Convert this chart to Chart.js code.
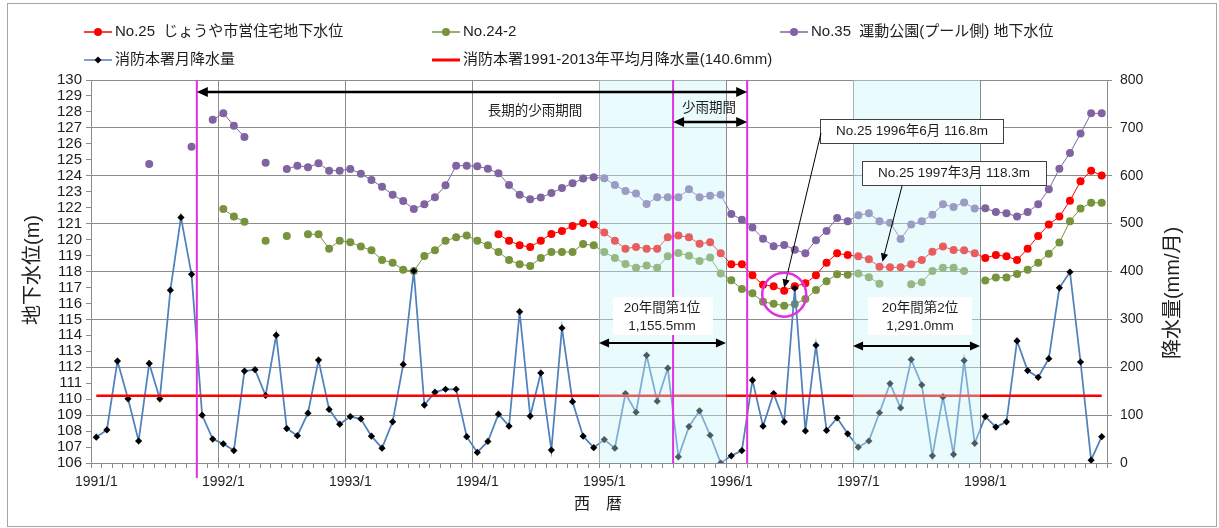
<!DOCTYPE html>
<html>
<head>
<meta charset="utf-8">
<script src="https://cdn.jsdelivr.net/npm/chart.js@4.4.1/dist/chart.umd.min.js"></script>
<style>
  html, body { margin: 0; padding: 0; background: #fff; }
  #wrap { width: 1219px; height: 528px; }
</style>
</head>
<body>
<div id="wrap"><canvas id="chart" width="1219" height="528"></canvas></div>
<script>
// months 1991/1 .. 1998/12
const months = [];
for (let y = 1991; y <= 1998; y++) for (let m = 1; m <= 12; m++) months.push(y + '/' + m);

// 消防本署月降水量 (mm)
const rain = [
  54, 69, 213, 134, 46, 208, 134, 361, 513, 394, 100, 50,
  40, 26, 192, 195, 141, 267, 72, 57, 104, 215, 112, 81,
  97, 92, 56, 31, 86, 206, 401, 121, 148, 154, 154, 55,
  22, 45, 102, 77, 316, 98, 188, 27, 282, 128, 56, 32,
  49, 31, 145, 106, 225, 129, 198, 13, 76, 109, 58, 0,
  15, 26, 173, 77, 145, 86, 365, 67, 246, 68, 94, 61,
  33, 46, 105, 166, 115, 216, 163, 15, 138, 18, 214, 41,
  97, 75, 86, 255, 193, 179, 218, 366, 399, 211, 6, 55
];
const avgRain = 140.6;

// No.25 じょうや市営住宅地下水位 (m)
const no25 = [
  null, null, null, null, null, null, null, null, null, null, null, null,
  null, null, null, null, null, null, null, null, null, null, null, null,
  null, null, null, null, null, null, null, null, null, null, null, null,
  null, null, 120.33, 119.93, 119.64, 119.54, 119.93, 120.35, 120.54, 120.85, 121.04, 120.94,
  120.44, 119.93, 119.43, 119.54, 119.43, 119.43, 120.14, 120.25, 120.14, 119.74, 119.83, 119.14,
  118.45, 118.45, 117.76, 117.17, 117.07, 116.8, 117.07, 117.26, 117.76, 118.55, 119.14, 119.03,
  118.95, 118.76, 118.3, 118.26, 118.26, 118.45, 118.72, 119.24, 119.56, 119.35, 119.33, 119.14,
  118.85, 119.03, 118.95, 118.72, 119.43, 120.23, 120.94, 121.44, 122.44, 123.65, 124.32, 124.01
];

// No.24-2 (m)
const no24_2 = [
  null, null, null, null, null, null, null, null, null, null, null, null,
  121.92, 121.44, 121.12, null, 119.93, null, 120.23, null, 120.33, 120.33, 119.43, 119.93,
  119.83, 119.56, 119.33, 118.72, 118.55, 118.11, 118.03, 118.97, 119.33, 119.93, 120.14, 120.25,
  119.93, 119.64, 119.22, 118.72, 118.45, 118.35, 118.85, 119.22, 119.22, 119.22, 119.72, 119.64,
  119.22, 118.85, 118.47, 118.24, 118.37, 118.24, 118.95, 119.16, 118.99, 118.66, 118.87, 117.87,
  117.45, 116.9, 116.63, 116.1, 115.98, 115.85, 115.96, 116.27, 116.84, 117.39, 117.83, 117.8,
  117.87, 117.64, 117.24, null, null, 117.2, 117.33, 118.03, 118.24, 118.24, 118.03, null,
  117.43, 117.62, 117.62, 117.85, 118.11, 118.55, 119.12, 119.81, 121.15, 121.94, 122.31, 122.31
];

// No.35 運動公園(プール側) 地下水位 (m)
const no35 = [
  null, null, null, null, null, 124.74, null, null, null, 125.82, null, 127.51,
  127.91, 127.14, 126.43, null, 124.82, null, 124.42, 124.63, 124.53, 124.78, 124.32, 124.32,
  124.42, 124.13, 123.73, 123.31, 122.81, 122.42, 121.92, 122.21, 122.65, 123.4, 124.63, 124.63,
  124.59, 124.44, 124.15, 123.42, 122.81, 122.52, 122.63, 122.92, 123.23, 123.53, 123.82, 123.9,
  123.84, 123.42, 123.05, 122.88, 122.23, 122.65, 122.65, 122.65, 123.15, 122.65, 122.75, 122.81,
  121.6, 121.25, 120.75, 120.06, 119.58, 119.66, 119.37, 119.14, 119.96, 120.54, 121.35, 121.15,
  121.52, 121.65, 121.15, 121.06, 120.04, 120.94, 121.15, 121.56, 122.21, 122.04, 122.33, 121.94,
  121.96, 121.73, 121.65, 121.44, 121.73, 122.21, 123.15, 124.44, 125.43, 126.64, 127.91, 127.91
];

const FONT = '"Liberation Sans", "Noto Sans CJK JP", sans-serif';
const GRID = '#8c8c8c';
const TXT = '#1e1e1e';
const MAGENTA = '#e030e0';

function edge(chart, i) {
  const x = chart.scales.x;
  const w = x.getPixelForValue(1) - x.getPixelForValue(0);
  return x.getPixelForValue(i) - w / 2;
}

function arrow(ctx, x1, y1, x2, y2, start, end, lw, size) {
  ctx.save();
  ctx.strokeStyle = '#000';
  ctx.fillStyle = '#000';
  ctx.lineWidth = lw;
  const a = Math.atan2(y2 - y1, x2 - x1);
  const sx = start ? x1 + Math.cos(a) * size * 0.8 : x1;
  const sy = start ? y1 + Math.sin(a) * size * 0.8 : y1;
  const ex = end ? x2 - Math.cos(a) * size * 0.8 : x2;
  const ey = end ? y2 - Math.sin(a) * size * 0.8 : y2;
  ctx.beginPath(); ctx.moveTo(sx, sy); ctx.lineTo(ex, ey); ctx.stroke();
  const head = (x, y, ang) => {
    ctx.beginPath();
    ctx.moveTo(x, y);
    ctx.lineTo(x - Math.cos(ang - 0.42) * size, y - Math.sin(ang - 0.42) * size);
    ctx.lineTo(x - Math.cos(ang + 0.42) * size, y - Math.sin(ang + 0.42) * size);
    ctx.closePath(); ctx.fill();
  };
  if (end) head(x2, y2, a);
  if (start) head(x1, y1, a + Math.PI);
  ctx.restore();
}

function text(ctx, s, x, y, size, align) {
  ctx.font = size + 'px ' + FONT;
  ctx.fillStyle = TXT;
  ctx.textAlign = align || 'center';
  ctx.textBaseline = 'middle';
  ctx.fillText(s, x, y);
}

const frame = {
  id: 'frame',
  beforeDraw(chart) {
    const ctx = chart.ctx;
    ctx.save();
    ctx.fillStyle = '#fff';
    ctx.fillRect(0, 0, chart.width, chart.height);
    ctx.strokeStyle = '#a6a6a6';
    ctx.lineWidth = 1;
    ctx.strokeRect(7.5, 3.5, 1209, 523);
    ctx.restore();
  }
};

const overlay = {
  id: 'overlay',
  afterDatasetsDraw(chart) {
    const ctx = chart.ctx;
    const a = chart.chartArea;
    const x = chart.scales.x, yR = chart.scales.yR;
    ctx.save();

    // average rainfall line
    ctx.strokeStyle = '#ff0000';
    ctx.lineWidth = 2.5;
    ctx.beginPath();
    const ya = yR.getPixelForValue(avgRain);
    ctx.moveTo(x.getPixelForValue(0), ya);
    ctx.lineTo(x.getPixelForValue(months.length - 1), ya);
    ctx.stroke();

    // shaded years (1995, 1997)
    ctx.fillStyle = 'rgba(200,245,250,0.38)';
    [[48, 60], [72, 84]].forEach(([s, e]) => {
      const x1 = edge(chart, s), x2 = edge(chart, e);
      ctx.fillRect(x1, a.top, x2 - x1, a.bottom - a.top);
    });

    // magenta period lines
    ctx.strokeStyle = MAGENTA;
    ctx.lineWidth = 2;
    [[10, 15], [55, 0], [62, 0]].forEach(([i, ext]) => {
      const px = edge(chart, i);
      ctx.beginPath(); ctx.moveTo(px, a.top); ctx.lineTo(px, a.bottom + ext); ctx.stroke();
    });

    // period arrows
    arrow(ctx, edge(chart, 10), a.top + 12, edge(chart, 62), a.top + 12, true, true, 2.5, 12);
    text(ctx, '長期的少雨期間', 535, 111, 13.5);
    arrow(ctx, edge(chart, 55), a.top + 42, edge(chart, 62), a.top + 42, true, true, 2.5, 12);
    text(ctx, '少雨期間', 709, 108, 13.5);

    // 20年間 boxes
    ctx.fillStyle = '#fff';
    ctx.fillRect(613, 297, 100, 38);
    ctx.fillRect(868, 297, 104, 38);
    text(ctx, '20年間第1位', 662, 308, 13.5);
    text(ctx, '1,155.5mm', 662, 326, 13.5);
    text(ctx, '20年間第2位', 920, 308, 13.5);
    text(ctx, '1,291.0mm', 920, 326, 13.5);
    arrow(ctx, edge(chart, 48), 343, edge(chart, 60), 343, true, true, 2, 11);
    arrow(ctx, edge(chart, 72), 346, edge(chart, 84), 346, true, true, 2, 11);

    // callouts
    ctx.lineWidth = 1;
    ctx.strokeStyle = '#404040';
    ctx.fillStyle = '#fff';
    ctx.fillRect(820, 119, 183, 24); ctx.strokeRect(820.5, 119.5, 183, 24);
    ctx.fillRect(862, 161, 184, 24); ctx.strokeRect(862.5, 161.5, 184, 24);
    text(ctx, 'No.25 1996年6月 116.8m', 912, 131.5, 13.5);
    text(ctx, 'No.25 1997年3月 118.3m', 954, 173.5, 13.5);
    const yL = chart.scales.y;
    arrow(ctx, 821, 133, x.getPixelForValue(65), yL.getPixelForValue(116.8) - 3, false, true, 1, 9);
    arrow(ctx, 902, 186, x.getPixelForValue(74) + 3, yL.getPixelForValue(118.3) - 5, false, true, 1, 9);

    // circle on lowest level
    ctx.strokeStyle = MAGENTA;
    ctx.lineWidth = 2.5;
    ctx.beginPath();
    ctx.arc(x.getPixelForValue(65), yL.getPixelForValue(116.55), 22, 0, Math.PI * 2);
    ctx.stroke();
    ctx.restore();
  },
  afterDraw(chart) {
    const ctx = chart.ctx;
    ctx.save();
    // legend
    const item = (x, y, color, kind, label) => {
      ctx.strokeStyle = color;
      ctx.lineWidth = kind === 'thick' ? 3 : 1.5;
      ctx.beginPath(); ctx.moveTo(x, y); ctx.lineTo(x + 28, y); ctx.stroke();
      if (kind === 'dot') {
        ctx.fillStyle = color;
        ctx.beginPath(); ctx.arc(x + 14, y, 4, 0, Math.PI * 2); ctx.fill();
      } else if (kind === 'diamond') {
        ctx.fillStyle = '#000';
        ctx.beginPath();
        ctx.moveTo(x + 14, y - 3.5); ctx.lineTo(x + 17.5, y); ctx.lineTo(x + 14, y + 3.5); ctx.lineTo(x + 10.5, y);
        ctx.closePath(); ctx.fill();
      }
      text(ctx, label, x + 31, y, 15, 'left');
    };
    item(84, 32, '#ff0000', 'dot', 'No.25  じょうや市営住宅地下水位');
    item(432, 32, '#77933c', 'dot', 'No.24-2');
    item(780, 32, '#8064a2', 'dot', 'No.35  運動公園(プール側) 地下水位');
    item(84, 60, '#4f81bd', 'diamond', '消防本署月降水量');
    item(432, 60, '#ff0000', 'thick', '消防本署1991-2013年平均月降水量(140.6mm)');

    // axis titles
    ctx.save();
    ctx.translate(33, 270); ctx.rotate(-Math.PI / 2);
    text(ctx, '地下水位(m)', 0, 0, 20);
    ctx.restore();
    ctx.save();
    ctx.translate(1173, 293); ctx.rotate(-Math.PI / 2);
    text(ctx, '降水量(mm/月)', 0, 0, 20);
    ctx.restore();
    text(ctx, '西　暦', 598, 505, 16);
    ctx.restore();
  }
};

const gw = (label, data, color, order) => ({
  label, data, yAxisID: 'y', order,
  borderColor: color, borderWidth: 1,
  pointRadius: 4, pointHoverRadius: 4,
  pointBackgroundColor: color, pointBorderWidth: 0,
  spanGaps: false, tension: 0
});

new Chart(document.getElementById('chart').getContext('2d'), {
  type: 'line',
  data: {
    labels: months,
    datasets: [
      {
        label: '消防本署月降水量', data: rain, yAxisID: 'yR', order: 0,
        borderColor: '#4f81bd', borderWidth: 1.75, tension: 0,
        pointStyle: 'rectRot', pointRadius: 3.6, pointBackgroundColor: '#000', pointBorderWidth: 0
      },
      gw('No.35 運動公園(プール側) 地下水位', no35, '#8064a2', 1),
      gw('No.24-2', no24_2, '#77933c', 2),
      gw('No.25 じょうや市営住宅地下水位', no25, '#ff0000', 3)
    ]
  },
  options: {
    responsive: false,
    animation: false,
    layout: { padding: { top: 80, left: 0, right: 0, bottom: 0 } },
    plugins: { legend: { display: false }, tooltip: { enabled: false } },
    scales: {
      x: {
        type: 'category',
        offset: true,
        afterFit: s => { s.height = 65; },
        grid: {
          offset: true,
          color: c => (c.index % 12 === 0 ? GRID : 'rgba(0,0,0,0)'),
          tickColor: GRID,
          tickLength: 5
        },
        border: { color: GRID },
        ticks: {
          autoSkip: false, maxRotation: 0, minRotation: 0, padding: 6,
          color: TXT, font: { family: FONT, size: 14 },
          callback: (v, i) => (i % 12 === 0 ? months[i] : '')
        }
      },
      y: {
        position: 'left',
        min: 106, max: 130,
        afterFit: s => { s.width = 91; },
        grid: { drawOnChartArea: false, color: GRID, tickLength: 5 },
        border: { color: GRID },
        ticks: { stepSize: 1, autoSkip: false, padding: 4, color: TXT, font: { family: FONT, size: 15 } }
      },
      yR: {
        position: 'right',
        min: 0, max: 800,
        afterFit: s => { s.width = 112; },
        grid: { drawOnChartArea: true, color: GRID, tickLength: 5 },
        border: { color: GRID },
        ticks: { stepSize: 100, autoSkip: false, padding: 8, color: TXT, font: { family: FONT, size: 14 } }
      }
    }
  },
  plugins: [frame, overlay]
});
</script>
</body>
</html>
